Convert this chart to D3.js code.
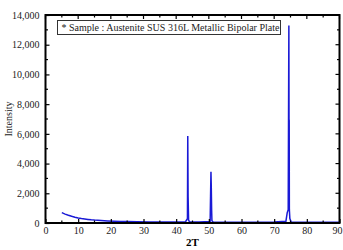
<!DOCTYPE html>
<html>
<head>
<meta charset="utf-8">
<script src="https://cdn.jsdelivr.net/npm/d3@7"></script>
<style>
  body { margin: 0; background: #fff; }
</style>
</head>
<body>
<svg id="chart" width="343" height="250"></svg>
<script>
// XRD pattern, 2T vs intensity
var twoTheta = [5, 6, 7, 8, 9, 10, 11, 12, 13, 14, 15, 17, 19, 21, 23, 25, 28, 32, 36, 40, 42.8, 43.2,
  43.45, 43.55, 43.65, 43.8, 44.1, 47, 50.4, 50.65, 50.75, 50.85, 50.95, 51.3, 55, 60, 65, 70, 73.6,
  74.0, 74.3, 74.5, 74.55, 74.6, 74.65, 74.8, 75.2, 80, 85, 90];
var intensity = [700, 600, 520, 450, 390, 340, 300, 270, 240, 215, 195, 165, 140, 120, 105, 95, 85, 75, 70, 65, 70, 200,
  300, 5850, 1800, 200, 70, 60, 100, 3450, 2400, 900, 150, 60, 55, 55, 55, 60, 120,
  700, 900, 13300, 7000, 6900, 900, 300, 70, 55, 50, 50];

var xTicks = [0, 10, 20, 30, 40, 50, 60, 70, 80, 90];
var yTicks = [0, 2000, 4000, 6000, 8000, 10000, 12000, 14000];
var legendText = "* Sample : Austenite SUS 316L Metallic Bipolar Plate";

var serif = "'Liberation Serif', 'Times New Roman', Times, 'DejaVu Serif', serif";

var svg = d3.select("#chart");
var margin = {left: 45.5, right: 3.5, top: 15, bottom: 27};
var width = 343 - margin.left - margin.right,
    height = 250 - margin.top - margin.bottom;

var x = d3.scaleLinear().domain([0, 90]).range([0, width]);
var y = d3.scaleLinear().domain([0, 14000]).range([height, 0]);

var g = svg.append("g").attr("transform", "translate(" + margin.left + "," + margin.top + ")");

// data line
var pts = twoTheta.map(function(d, i) { return [d, intensity[i]]; });
g.append("path")
  .datum(pts)
  .attr("fill", "none")
  .attr("stroke", "#1a1ad6")
  .attr("stroke-width", 1.5)
  .attr("d", d3.line().x(function(d) { return x(d[0]); }).y(function(d) { return y(d[1]); }));

// axes, ticks inside
var fmt = d3.format(",");
var xAxis = d3.axisBottom(x).tickValues(xTicks).tickSize(-4).tickPadding(4);
var yAxis = d3.axisLeft(y).tickValues(yTicks).tickSize(-4).tickPadding(6).tickFormat(fmt);

var gx = g.append("g").attr("transform", "translate(0," + height + ")").call(xAxis);
var gy = g.append("g").call(yAxis);
[gx, gy].forEach(function(a) {
  a.attr("font-family", serif);
  a.select(".domain").remove();
  a.selectAll("line").attr("stroke", "#000").attr("stroke-width", 1.2);
  a.selectAll("text").attr("font-size", 10).attr("fill", "#222")
    .attr("font-family", serif);
});
// last x label sits at the right edge, nudge it in
gx.selectAll("text").filter(function(d) { return d === 90; }).attr("dx", -2.5);

// minor ticks
var xMinor = d3.range(5, 90, 10);
var yMinor = d3.range(1000, 14000, 2000);
g.selectAll(".xminor").data(xMinor).enter().append("line")
  .attr("x1", x).attr("x2", x).attr("y1", height).attr("y2", height - 2.5)
  .attr("stroke", "#000").attr("stroke-width", 1.2);
g.selectAll(".yminor").data(yMinor).enter().append("line")
  .attr("x1", 0).attr("x2", 2.5).attr("y1", y).attr("y2", y)
  .attr("stroke", "#000").attr("stroke-width", 1.2);

// top and right ticks
g.selectAll(".xtop").data(xTicks.concat(xMinor)).enter().append("line")
  .attr("x1", x).attr("x2", x).attr("y1", 0)
  .attr("y2", function(d) { return d % 10 === 0 ? 4 : 2.5; })
  .attr("stroke", "#000").attr("stroke-width", 1.2);
g.selectAll(".yright").data(yTicks.concat(yMinor)).enter().append("line")
  .attr("x1", width).attr("x2", function(d) { return d % 2000 === 0 ? width - 4 : width - 2.5; })
  .attr("y1", y).attr("y2", y)
  .attr("stroke", "#000").attr("stroke-width", 1.2);

// frame
g.append("rect").attr("width", width).attr("height", height)
  .attr("fill", "none").attr("stroke", "#000").attr("stroke-width", 2);

// legend box
var lg = g.append("g").attr("transform", "translate(12,5.5)");
lg.append("rect").attr("width", 223).attr("height", 14)
  .attr("fill", "#fff").attr("stroke", "#333").attr("stroke-width", 1);
lg.append("text").attr("x", 4).attr("y", 10.5).attr("font-size", 10).attr("fill", "#222")
  .attr("font-family", serif)
  .text(legendText);

// axis titles
svg.append("text")
  .attr("x", margin.left + x(45)).attr("y", 246)
  .attr("text-anchor", "middle").attr("font-size", 11).attr("font-weight", "bold")
  .attr("font-family", serif)
  .text("2T");
svg.append("text")
  .attr("transform", "translate(12," + (margin.top + height / 2) + ") rotate(-90)")
  .attr("text-anchor", "middle").attr("font-size", 10).attr("fill", "#222")
  .attr("font-family", serif)
  .text("Intensity");
</script>
</body>
</html>
